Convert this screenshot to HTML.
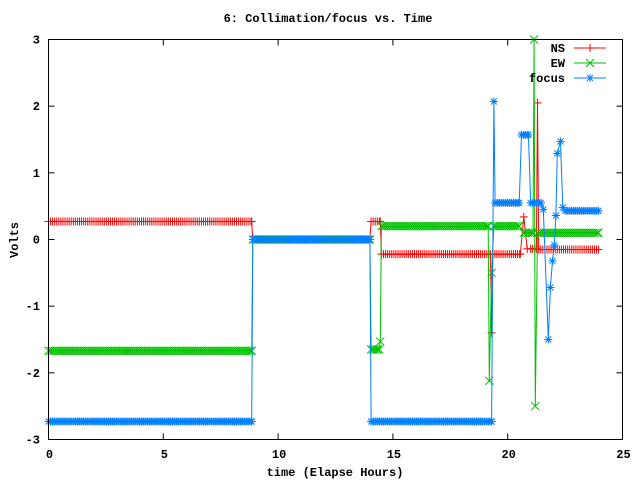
<!DOCTYPE html>
<html><head><meta charset="utf-8"><style>
html,body{margin:0;padding:0;background:#fff}
svg text{font-family:"Liberation Mono","DejaVu Sans Mono",monospace;font-weight:bold;font-size:12px;fill:#000}
</style></head><body>
<svg id="chart" width="640" height="480" viewBox="0 0 640 480" xmlns="http://www.w3.org/2000/svg">
<text x="328" y="22" text-anchor="middle">6: Collimation/focus vs. Time</text>
<text transform="translate(18,240) rotate(-90)" text-anchor="middle">Volts</text>
<text x="335" y="476" text-anchor="middle">time (Elapse Hours)</text>
<g id="axes"></g>
<g id="series"></g>
<rect x="48.5" y="39.5" width="574" height="400" fill="none" stroke="#000" stroke-width="1"/>
<g id="legend"></g>
</svg>
<script>
const xTicks=[0,5,10,15,20,25];
const yTicks=[-3,-2,-1,0,1,2,3];
const nsT=[0,8.85,8.9,14.0,14.05,14.45,14.5,19.25,19.3,19.35,20.55,20.7,20.85,21.0,21.25,21.3,21.35,23.95];
const nsV=[0.27,0.27,0,0,0.27,0.27,-0.22,-0.22,-1.4,-0.22,-0.22,0.34,-0.14,-0.14,-0.14,2.05,-0.15,-0.15];
const ewT=[0,8.85,8.9,14.0,14.05,14.4,14.45,14.5,19.15,19.2,19.3,19.4,20.5,20.7,21.1,21.15,21.2,21.3,23.95];
const ewV=[-1.67,-1.67,0,0,-1.65,-1.65,-1.53,0.2,0.2,-2.12,-0.5,0.2,0.2,0.1,0.1,3.0,-2.5,0.1,0.1];
const fT=[0,8.85,8.9,14.0,14.05,19.3,19.4,19.45,20.5,20.6,20.9,21.0,21.45,21.55,21.77,21.86,21.95,22.03,22.1,22.16,22.3,22.4,22.5,23.95];
const fV=[-2.73,-2.73,0,0,-2.73,-2.73,2.07,0.55,0.55,1.57,1.57,0.55,0.55,0.45,-1.5,-0.72,-0.32,-0.08,0.36,1.29,1.47,0.48,0.43,0.43];
const NS="http://www.w3.org/2000/svg";
const X0=48.5,X1=622.5,Y0=439.5,Y1=39.5;
function xs(t){return X0+(t-0)/(25-0)*(X1-X0);}
function ys(v){return Y0-(v+3)/6*(Y0-Y1);}
function mk(tag,attrs,parent){const e=document.createElementNS(NS,tag);for(const k in attrs)e.setAttribute(k,attrs[k]);parent.appendChild(e);return e;}
const axes=document.getElementById('axes');
xTicks.forEach(t=>{
  const x=xs(t);
  const l=mk('line',{x1:x,y1:Y0,x2:x,y2:Y0-6,stroke:'#000'},axes);
  
  
  const l2=mk('line',{x1:x,y1:Y1,x2:x,y2:Y1+6,stroke:'#000'},axes);
  
  
  const tx=mk('text',{x:x+1,y:458,'text-anchor':'middle'},axes);
  tx.textContent=t;
  
  
});
yTicks.forEach(v=>{
  const y=ys(v);
  const l=mk('line',{x1:X0,y1:y,x2:X0+6,y2:y,stroke:'#000'},axes);
  
  
  const l2=mk('line',{x1:X1,y1:y,x2:X1-6,y2:y,stroke:'#000'},axes);
  
  
  const tx=mk('text',{x:40,y:y+4,'text-anchor':'end'},axes);
  tx.textContent=v;
  
  
});
function marker(g,type,x,y,col){
  const s=4;let d;
  if(type==='+')d=`M${x-s},${y}H${x+s}M${x},${y-s}V${y+s}`;
  else if(type==='x')d=`M${x-s},${y-s}L${x+s},${y+s}M${x-s},${y+s}L${x+s},${y-s}`;
  else d=`M${x-s},${y}H${x+s}M${x},${y-s}V${y+s}M${x-s+1},${y-s+1}L${x+s-1},${y+s-1}M${x-s+1},${y+s-1}L${x+s-1},${y-s+1}`;
  const p=mk('path',{d:d,stroke:col,'stroke-width':1,fill:'none'},g);
  
  
}
function drawSeries(name,T,V,col,type){
  const g=mk('g',{},document.getElementById('series'));
  
  
  const pts=T.map((t,i)=>xs(t).toFixed(1)+','+ys(V[i]).toFixed(1)).join(' ');
  const pl=mk('polyline',{points:pts,fill:'none',stroke:col,'stroke-width':1},g);
  
  
  T.forEach((t,i)=>{
    marker(g,type,xs(t),ys(V[i]),col);
    if(i<T.length-1&&V[i+1]===V[i]&&T[i+1]-T[i]>0.15){
      for(let u=T[i]+0.09;u<T[i+1];u+=0.09)marker(g,type,xs(u),ys(V[i]),col);
    }
  });
}
drawSeries('ns',nsT,nsV,'#ff0000','+');
drawSeries('ew',ewT,ewV,'#00c000','x');
drawSeries('focus',fT,fV,'#0080ff','*');
const lg=document.getElementById('legend');
[['NS','#ff0000','+'],['EW','#00c000','x'],['focus','#0080ff','*']].forEach((e,i)=>{
  const y=48+i*15;
  const g=mk('g',{},lg);
  
  
  const tx=mk('text',{x:565,y:y+4,'text-anchor':'end'},g);
  tx.textContent=e[0];
  mk('line',{x1:574,y1:y,x2:606,y2:y,stroke:e[1]},g);
  marker(g,e[2],590,y,e[1]);
});
</script>
</body></html>
